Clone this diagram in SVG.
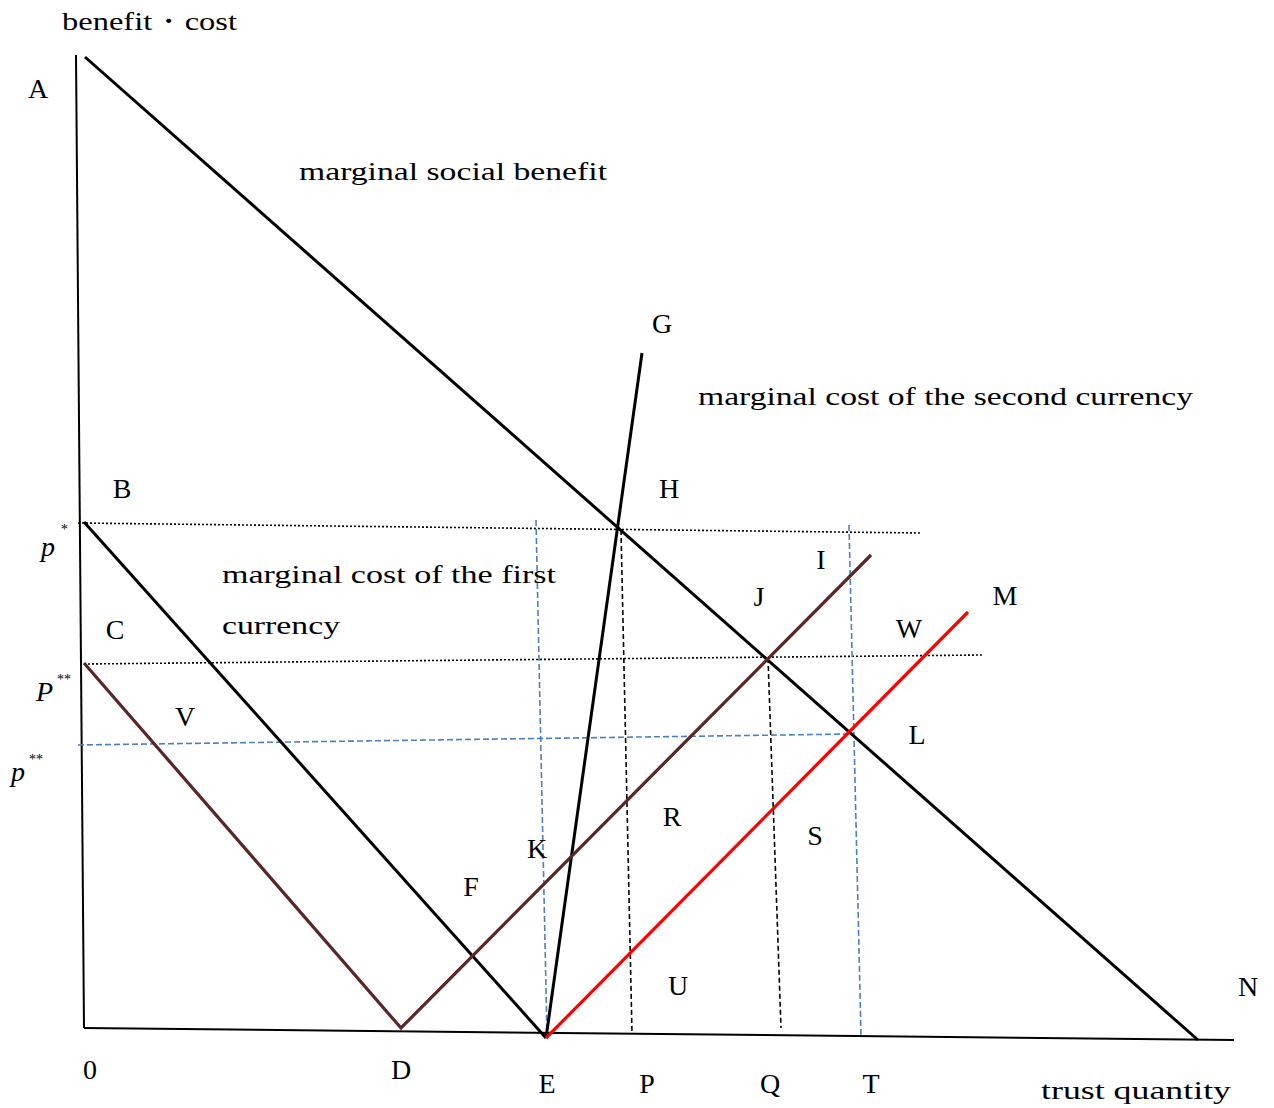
<svg xmlns="http://www.w3.org/2000/svg" width="1274" height="1108" viewBox="0 0 1274 1108">
<style>
text{font-family:"Liberation Serif","DejaVu Serif",serif;font-size:26px;fill:#000}
.c{text-anchor:middle;font-size:28px}
.it{font-style:italic;font-size:28px}
.sup{font-size:14px}
.k{stroke:#000;stroke-width:3;fill:none}
.br{stroke:#5a2626;stroke-width:3.2;fill:none}
.rd{stroke:#ff0000;stroke-width:3.2;fill:none}
.ax{stroke:#000;stroke-width:2;fill:none}
.dot{stroke:#000;stroke-width:1.6;stroke-dasharray:2 2;fill:none}
.bd{stroke:#4a7fc1;stroke-width:1.6;stroke-dasharray:6 3;fill:none}
.kd{stroke:#000;stroke-width:1.6;stroke-dasharray:5 3;fill:none}
</style>
<rect width="1274" height="1108" fill="#fff"/>
<g id="connectors">
<line class="ax" x1="76" y1="55" x2="84" y2="1028"/>
<line class="ax" x1="84" y1="1028" x2="1234" y2="1040"/>
<line class="dot" x1="78" y1="523" x2="922" y2="533"/>
<line class="dot" x1="84" y1="664" x2="983" y2="655"/>
<line class="bd" x1="78" y1="745" x2="852" y2="734"/>
<line class="bd" x1="536" y1="520" x2="547" y2="1035"/>
<line class="bd" x1="849" y1="525" x2="861" y2="1035"/>
<line class="kd" x1="621" y1="530" x2="632" y2="1033"/>
<line class="kd" x1="768" y1="658" x2="781" y2="1028"/>
<line class="k" x1="85" y1="57" x2="1198" y2="1040"/>
<line class="k" x1="84" y1="522" x2="546" y2="1038"/>
<line class="k" x1="546" y1="1038" x2="642" y2="353"/>
<polyline class="br" points="84,663 401,1028 871,555"/>
<line class="rd" x1="546" y1="1038" x2="968" y2="612"/>
</g>
<g id="labels">
<text x="62" y="30" textLength="175" lengthAdjust="spacingAndGlyphs">benefit・cost</text>
<text class="c" x="38" y="98">A</text>
<text x="299" y="180" textLength="308" lengthAdjust="spacingAndGlyphs">marginal social benefit</text>
<text class="c" x="662" y="333">G</text>
<text x="698" y="405" textLength="495" lengthAdjust="spacingAndGlyphs">marginal cost of the second currency</text>
<text class="c" x="122" y="498">B</text>
<text class="c" x="669" y="498">H</text>
<text x="41" y="556" class="it">p</text><text x="61" y="534" class="sup">*</text>
<text x="222" y="583" textLength="334" lengthAdjust="spacingAndGlyphs">marginal cost of the first</text>
<text x="222" y="634" textLength="118" lengthAdjust="spacingAndGlyphs">currency</text>
<text class="c" x="821" y="569">I</text>
<text class="c" x="759" y="606">J</text>
<text class="c" x="1005" y="605">M</text>
<text class="c" x="115" y="639">C</text>
<text class="c" x="909" y="638">W</text>
<text x="36" y="701" class="it">P</text><text x="57" y="684" class="sup">**</text>
<text class="c" x="185" y="726">V</text>
<text class="c" x="917" y="744">L</text>
<text x="11" y="781" class="it">p</text><text x="29" y="764" class="sup">**</text>
<text class="c" x="672" y="826">R</text>
<text class="c" x="815" y="845">S</text>
<text class="c" x="537" y="858">K</text>
<text class="c" x="471" y="896">F</text>
<text class="c" x="678" y="995">U</text>
<text class="c" x="1248" y="996">N</text>
<text class="c" x="90" y="1079">0</text>
<text class="c" x="401" y="1079">D</text>
<text class="c" x="547" y="1093">E</text>
<text class="c" x="647" y="1093">P</text>
<text class="c" x="770" y="1093">Q</text>
<text class="c" x="871" y="1093">T</text>
<text x="1041" y="1099" textLength="190" lengthAdjust="spacingAndGlyphs">trust quantity</text>
</g>
</svg>
